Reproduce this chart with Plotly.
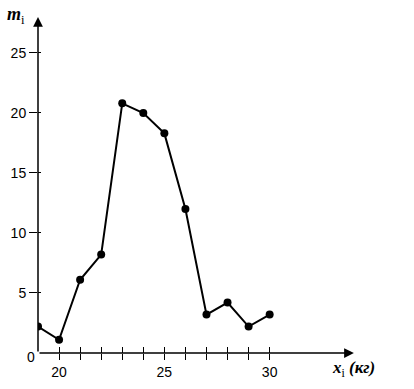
import plotly.graph_objects as go

x_vals = [19, 20, 21, 22, 23, 24, 25, 26, 27, 28, 29, 30]
m_vals = [2.2, 1.1, 6.1, 8.2, 20.8, 20.0, 18.3, 12.0, 3.2, 4.2, 2.2, 3.2]
x_ticks = [20, 21, 22, 23, 24, 25, 26, 27, 28, 29, 30]
x_label_vals = [20, 25, 30]
x_label_text = ["20", "25", "30"]
y_ticks = [5, 10, 15, 20, 25]
y_tick_text = ["5", "10", "15", "20", "25"]

x_range = [19, 34.29]
y_range = [0, 28.08]
x_end = 34
y_end = 28

tick_font = dict(family="Liberation Sans, Arial, sans-serif", size=14, color="black")
title_family = "Liberation Serif, Times New Roman, serif"

fig = go.Figure()
fig.add_trace(go.Scatter(
    x=x_vals, y=m_vals, mode="lines+markers",
    line=dict(color="black", width=2),
    marker=dict(color="black", size=8),
    showlegend=False, hoverinfo="skip",
))
# invisible traces to activate overlay axes
for xa, ya in (("x2", "y2"), ("x3", "y2")):
    fig.add_trace(go.Scatter(x=[x_vals[0]], y=[m_vals[0]], xaxis=xa, yaxis=ya,
                             mode="markers", marker=dict(opacity=0),
                             showlegend=False, hoverinfo="skip"))

common_x = dict(range=x_range, showgrid=False, zeroline=False, showline=False,
                tickcolor="black", tickwidth=1, automargin=False)
common_y = dict(range=y_range, showgrid=False, zeroline=False, showline=False,
                tickvals=y_ticks, tickcolor="black", tickwidth=1, automargin=False)

fig.update_layout(
    width=414, height=389,
    margin=dict(l=38, r=54, t=16, b=36),
    plot_bgcolor="white", paper_bgcolor="white",
    xaxis=dict(**common_x, tickvals=x_label_vals, ticktext=x_label_text,
               ticks="outside", ticklen=6, tickfont=tick_font),
    xaxis2=dict(**common_x, tickvals=x_ticks, ticks="inside", ticklen=6,
                showticklabels=False, overlaying="x", anchor="y2"),
    xaxis3=dict(**common_x, tickvals=x_ticks, ticks="outside", ticklen=6,
                showticklabels=False, overlaying="x", anchor="y2"),
    yaxis=dict(**common_y, ticktext=y_tick_text, ticks="outside", ticklen=8,
               tickfont=tick_font),
    yaxis2=dict(**common_y, ticks="inside", ticklen=3, showticklabels=False,
                overlaying="y", anchor="x2"),
)

# axes with arrows
fig.add_annotation(x=x_end, y=0, ax=x_range[0], ay=0, xref="x", yref="y",
                   axref="x", ayref="y", showarrow=True, arrowhead=2,
                   arrowsize=1.3, arrowwidth=1.5, arrowcolor="black", text="")
fig.add_annotation(x=x_range[0], y=y_end, ax=x_range[0], ay=0, xref="x", yref="y",
                   axref="x", ayref="y", showarrow=True, arrowhead=2,
                   arrowsize=1.3, arrowwidth=1.5, arrowcolor="black", text="")

# origin label
fig.add_annotation(x=x_range[0], y=0, xref="x", yref="y", text="0",
                   showarrow=False, font=tick_font, xanchor="right", yanchor="middle",
                   xshift=-1, yshift=-4)

# axis titles
fig.add_annotation(xref="paper", yref="paper", x=0, y=1.0, xanchor="left",
                   yanchor="bottom", xshift=-33, yshift=-13,
                   text="<b><i>m</i></b><sub style='font-size:10px'>i</sub>",
                   showarrow=False, font=dict(family=title_family, size=18, color="black"))
fig.add_annotation(xref="x", yref="paper", x=34.0, y=0, xanchor="center",
                   yanchor="top", yshift=-3,
                   text="<b><i>x</i></b><sub style='font-size:10px'>i</sub> <b><i>(кг)</i></b>",
                   showarrow=False, font=dict(family=title_family, size=17, color="black"))

fig.write_html("out.html", config={"displayModeBar": False},
               post_script="document.body.style.margin='0';")
